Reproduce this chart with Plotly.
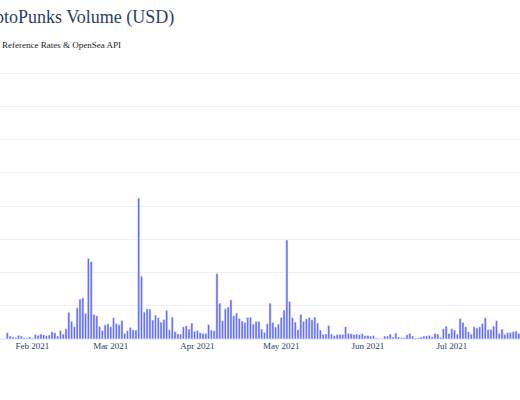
"""CryptoPunks daily trading volume, bar chart."""
import pandas as pd
import plotly.graph_objects as go

# Daily volume, USD millions, starting 2021-01-23
start_day = '2021-01-23'
volume_musd = [
    0.95, 0.45, 0.3, 0.25, 0.55, 0.45, 0.2, 0.15, 0.3,
    # Feb
    0.15, 0.7, 0.55, 0.75, 0.65, 0.5, 0.6, 1.1, 0.95, 0.45, 1.3, 0.75, 1.55, 4.0,
    2.65, 1.85, 4.7, 6.0, 6.2, 3.85, 12.15, 11.65, 3.7, 3.5, 1.9, 1.3, 2.15, 2.3,
    # Mar
    1.85, 3.2, 2.35, 2.15, 2.8, 0.85, 1.25, 1.75, 1.4, 1.35, 21.2, 9.45, 4.05, 4.55,
    4.5, 2.85, 3.6, 3.2, 2.55, 2.95, 4.3, 1.4, 3.3, 1.1, 0.8, 0.75, 1.85, 2.0, 1.5,
    2.4, 1.15,
    # Apr
    1.3, 0.95, 0.85, 0.85, 2.2, 1.35, 1.25, 9.85, 5.4, 2.75, 4.55, 4.8, 5.9, 3.5,
    3.9, 3.1, 2.7, 2.5, 3.25, 3.3, 2.25, 2.65, 2.65, 1.5, 1.0, 2.3, 5.4, 2.5, 1.8,
    2.25,
    # May
    3.25, 4.35, 14.9, 5.65, 3.2, 2.55, 1.4, 3.7, 2.65, 3.05, 3.25, 2.9, 3.3, 2.4,
    1.35, 0.7, 0.75, 2.05, 0.75, 0.5, 0.7, 0.7, 0.7, 1.85, 0.85, 0.8, 0.7, 0.75,
    0.65, 0.8, 0.5,
    # Jun
    0.55, 0.45, 0.5, 0.15, 0.1, 0.05, 0.45, 0.45, 0.75, 0.3, 0.9, 0.3, 0.2, 0.2,
    0.65, 0.85, 0.45, 0.15, 0.15, 0.3, 0.45, 0.5, 0.55, 0.35, 0.85, 0.75, 0.25,
    1.55, 1.95, 0.85,
    # Jul
    1.55, 1.35, 0.75, 3.1, 2.5, 1.85, 1.1, 0.75, 1.85, 1.65, 1.85, 2.35, 3.2, 1.45,
    1.45, 1.95, 2.75, 0.85, 1.5, 0.7, 1.0, 1.0, 1.1, 1.2, 0.85,
]
days = pd.date_range(start_day, periods=len(volume_musd), freq='D')

title = 'CryptoPunks Volume (USD)'
source = 'Source: CM Reference Rates & OpenSea API'
serif = 'Liberation Serif, Times New Roman, serif'

fig = go.Figure(go.Bar(x=days, y=volume_musd, marker_color='#636efa'))

fig.update_layout(
    template='plotly_white',
    width=520, height=400,
    margin=dict(l=0, r=0, t=60, b=61),
    font=dict(family=serif, size=9, color='#2a3f5f'),
    showlegend=False,
    bargap=0.2,
)
fig.update_xaxes(
    range=['2021-01-20 09:00', '2021-07-25 10:00'],
    dtick='M1', tickformat='%b %Y', showgrid=False,
    tickfont=dict(size=9, color='#2a3f5f'),
)
fig.update_yaxes(range=[0, 42], dtick=5, showticklabels=False,
                 gridcolor='#EBF0F8', zerolinecolor='#EBF0F8')

# title and source line sit partly off the left edge, like the original
fig.add_annotation(text=title, xref='paper', yref='paper', x=0.3385, y=1.152,
                   xanchor='right', yanchor='middle', showarrow=False,
                   font=dict(family=serif, size=18, color='#2a3f5f'))
fig.add_annotation(text=source, xref='paper', yref='paper', x=0.2365, y=1.052,
                   xanchor='right', yanchor='middle', showarrow=False,
                   font=dict(family=serif, size=9, color='#222222'))

# drop the default page margin so the figure starts at the window corner
fig.write_html('out.html', config={'displayModeBar': False},
               post_script="document.body.style.margin = '0';")
